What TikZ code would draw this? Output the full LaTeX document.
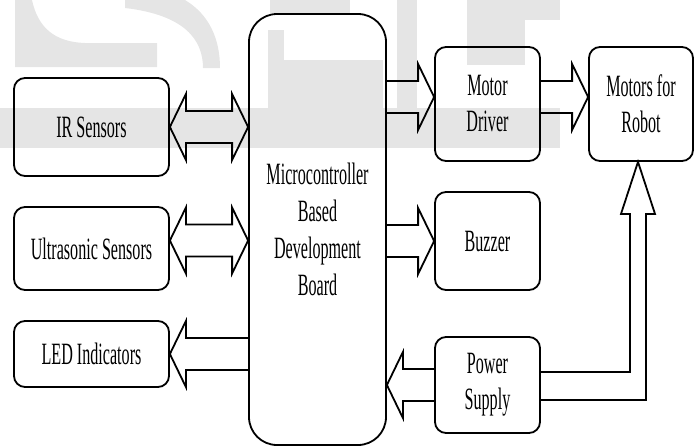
\documentclass[tikz,border=0pt]{standalone}
\usepackage{fontspec}
\setmainfont[FakeStretch=0.52]{Liberation Serif}
\usetikzlibrary{calc}

% hollow block arrows
\newcommand{\twoway}[2]{%
  \draw[blockline] (#1) -- ++(16,-33) -- ++(0,17) -- ($(#2)+(-16,-16)$)
    -- ++(0,-17) -- (#2) -- ++(-16,33) -- ++(0,-17) -- ($(#1)+(16,16)$)
    -- ++(0,17) -- cycle;}
\newcommand{\oneway}[3]{%
  \draw[blockline] ($(#1)+(0,-16)$) -- ($(#2)+(#3,-16)$) -- ++(0,-17)
    -- (#2) -- ($(#2)+(#3,33)$) -- ++(0,-17) -- ($(#1)+(0,16)$);}

\begin{document}
\begin{tikzpicture}[x=1pt, y=-1pt,
  block/.style={draw, line width=1.8pt, rounded corners=11pt, align=center,
    inner sep=0pt, font=\fontsize{31}{36}\selectfont},
  blockline/.style={line width=1.8pt},
  wmark/.style={fill=black!10},
]
  \useasboundingbox (0,0) rectangle (695,447);
  % watermark
  \fill[wmark] (15,0) -- (32,0) .. controls (38,28) and (55,42) .. (85,43)
    -- (157,43) -- (157,67) -- (15,67) -- cycle;
  \fill[wmark] (125,0) -- (185,0) .. controls (210,15) and (220,40) .. (220,68)
    -- (203,68) .. controls (203,40) and (185,15) .. (125,8) -- cycle;
  \fill[wmark] (0,108) rectangle (560,148);
  \fill[wmark] (268,30) rectangle (284,108);
  \fill[wmark] (268,60) rectangle (383,108);
  \fill[wmark] (270,0) rectangle (350,13);
  \fill[wmark] (397,0) rectangle (417,108);
  \fill[wmark] (467,0) rectangle (525,65);
  \fill[wmark] (525,0) rectangle (560,20);
  % blocks
  \node[block, minimum width=155, minimum height=98] (ir) at (91.5,127) {IR Sensors};
  \node[block, minimum width=155, minimum height=83] (us) at (91.5,248.5) {Ultrasonic Sensors};
  \node[block, minimum width=155, minimum height=66] (led) at (91.5,354) {LED Indicators};
  \node[block, rounded corners=28pt, minimum width=137, minimum height=431,
    font=\fontsize{31}{37}\selectfont] (mcu)
    at (317.5,229.5) {Microcontroller\\Based\\Development\\Board};
  \node[block, minimum width=105, minimum height=114] (drv) at (487.5,104) {Motor\\Driver};
  \node[block, minimum width=104, minimum height=114] (mot) at (641,104) {Motors for\\Robot};
  \node[block, minimum width=105, minimum height=98] (buz) at (487.5,241) {Buzzer};
  \node[block, minimum width=105, minimum height=96] (pwr) at (487.5,385) {Power\\Supply};
  % links
  \coordinate (irtip) at (mcu.west |- ir.east);
  \twoway{ir.east}{irtip}
  \coordinate (usl) at ($(us.east)+(0,-8)$);
  \coordinate (usr) at (mcu.west |- usl);
  \twoway{usl}{usr}
  \coordinate (ledl) at (mcu.west |- led.east);
  \oneway{ledl}{led.east}{16}
  \coordinate (drvin) at ($(drv.west)+(0,-7)$);
  \coordinate (drvout) at (mcu.east |- drvin);
  \oneway{drvout}{drvin}{-16}
  \coordinate (drvr) at (drv.east |- drvin);
  \coordinate (motin) at (mot.west |- drvin);
  \oneway{drvr}{motin}{-16}
  \coordinate (buzout) at (mcu.east |- buz.west);
  \oneway{buzout}{buz.west}{-16}
  \coordinate (pwrtip) at (mcu.east |- pwr.west);
  \oneway{pwr.west}{pwrtip}{16}
  % supply up to the motors
  \coordinate (p1) at ($(pwr.east)+(0,-13)$);
  \coordinate (p2) at ($(pwr.east)+(0,15)$);
  \coordinate (mtip) at ($(mot.south)+(-3,0)$);
  \coordinate (c1) at (mtip |- p1);
  \coordinate (c2) at (mtip |- p2);
  \draw[blockline] (p1) -- ($(c1)+(-8,0)$) -- ($(mtip)+(-8,52)$) -- ++(-9,0)
    -- (mtip) -- ++(17,52) -- ++(-9,0) -- ($(c2)+(8,0)$) -- (p2);
\end{tikzpicture}
\end{document}
